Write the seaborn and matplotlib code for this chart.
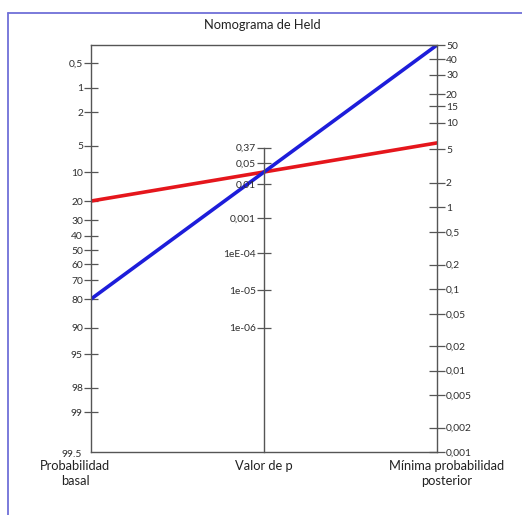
import numpy as np
import pandas as pd
import matplotlib
matplotlib.use("Agg")
import matplotlib.pyplot as plt
from matplotlib.lines import Line2D
import seaborn as sns

# escalas del nomograma (valores en %)
prior_ticks = [0.5, 1, 2, 5, 10, 20, 30, 40, 50, 60, 70, 80, 90, 95, 98, 99]
prior_labels = ["0,5", "1", "2", "5", "10", "20", "30", "40", "50", "60", "70",
                "80", "90", "95", "98", "99"]
pvalue_ticks = [0.37, 0.05, 0.01, 0.001, 1e-4, 1e-5, 1e-6]
pvalue_labels = ["0,37", "0,05", "0,01", "0,001", "1eE-04", "1e-05", "1e-06"]
post_ticks = [50, 40, 30, 20, 15, 10, 5, 2, 1, 0.5, 0.2, 0.1, 0.05, 0.02, 0.01,
              0.005, 0.002, 0.001]
post_labels = ["50", "40", "30", "20", "15", "10", "5", "2", "1", "0,5", "0,2",
               "0,1", "0,05", "0,02", "0,01", "0,005", "0,002", "0,001"]

# rectas trazadas: probabilidad basal -> minima probabilidad posterior
line_names = ["roja", "azul"]
line_prior = [20, 80]
line_post = [5.9, 50]
line_colors = ["#e5161c", "#1d1dda"]

OFFSET = -5.8


def logit(pct):
    p = np.asarray(pct, dtype=float) / 100
    return np.log(p / (1 - p))


def y_left(pct):
    return logit(pct)


def y_right(pct):
    return OFFSET - logit(pct)


def y_mid(p):
    p = np.asarray(p, dtype=float)
    bf = -np.e * p * np.log(p)
    return (OFFSET - np.log(bf)) / 2


sns.set_style("white")
plt.rcParams['font.family'] = ['Lato', 'DejaVu Sans']

fig = plt.figure(figsize=(5.22, 5.15), dpi=100)
pos = [0.1743, 0.1223, 0.6629, 0.7903]
ax = fig.add_axes(pos)

ylim = (float(y_right(post_ticks[-1])), float(y_right(post_ticks[0])))

df = pd.DataFrame({
    "x": [0, 1] * len(line_names),
    "y": np.concatenate([[y_left(a), y_right(b)] for a, b in zip(line_prior, line_post)]),
    "linea": np.repeat(line_names, 2),
})
sns.lineplot(data=df, x="x", y="y", hue="linea", palette=line_colors,
             lw=2.6, legend=False, sort=False, estimator=None, ax=ax)

spine_c = "#555555"
lab_c = "#2e2e2e"
tick_fs = 7.4
text_fs = 9.3

ax.set_xlim(0, 1)
ax.set_ylim(*ylim)
ax.set_xticks([])
ax.set_xlabel("")
ax.set_ylabel("")
for side in ['top', 'bottom', 'left', 'right']:
    ax.spines[side].set(lw=1.0, color=spine_c, visible=True)
ax.set_yticks(y_left(prior_ticks))
ax.set_yticklabels(prior_labels)
ax.tick_params(axis="y", left=True, direction="inout", length=9.5, width=0.9,
               color=spine_c, labelcolor=lab_c, labelsize=tick_fs, pad=1)

# eje derecho
axr = ax.twinx()
axr.set_ylim(*ylim)
axr.set_yticks(y_right(post_ticks))
axr.set_yticklabels(post_labels)
for side in ['top', 'bottom', 'left', 'right']:
    axr.spines[side].set_visible(False)
axr.tick_params(axis="y", right=True, direction="inout", length=11, width=0.9,
                color=spine_c, labelcolor=lab_c, labelsize=tick_fs, pad=1)

# eje central (valor de p)
axm = fig.add_axes([pos[0] + pos[2] * 0.5, pos[1], 1e-6, pos[3]])
axm.patch.set_visible(False)
axm.set_ylim(*ylim)
axm.set_xticks([])
for side in ['top', 'bottom', 'right']:
    axm.spines[side].set_visible(False)
axm.spines['left'].set(lw=1.0, color=spine_c)
axm.spines['left'].set_bounds(float(y_mid(pvalue_ticks[0])), ylim[0])
axm.set_yticks(y_mid(pvalue_ticks))
axm.set_yticklabels(pvalue_labels)
axm.tick_params(axis="y", left=True, right=False, direction="inout", length=10,
                width=0.9, color=spine_c, labelcolor=lab_c, labelsize=tick_fs, pad=1)

# textos
fig.text(0.503, 1 - 25 / 515, "Nomograma de Held", ha="center", va="center",
         fontsize=text_fs, color="#222222")
ax.text(-0.025, -0.007, "99.5", transform=ax.transAxes, ha="right", va="center",
        fontsize=tick_fs, color=lab_c)
ax.text(-0.046, -0.02, "Probabilidad\nbasal", transform=ax.transAxes,
        ha="center", va="top", fontsize=text_fs, linespacing=1.3, color="#222222")
ax.text(0.5, -0.02, "Valor de p", transform=ax.transAxes,
        ha="center", va="top", fontsize=text_fs, color="#222222")
ax.text(1.029, -0.02, "Mínima probabilidad\nposterior", transform=ax.transAxes,
        ha="center", va="top", fontsize=text_fs, linespacing=1.3, color="#222222")

# marco azul
bx, by = 8 / 522, 1 - 13 / 515
fig.add_artist(Line2D([bx, bx], [0, by], color="#7070d8", lw=1.3))
fig.add_artist(Line2D([bx, 1], [by, by], color="#7070d8", lw=1.3))

fig.savefig("out.png", dpi=100)
